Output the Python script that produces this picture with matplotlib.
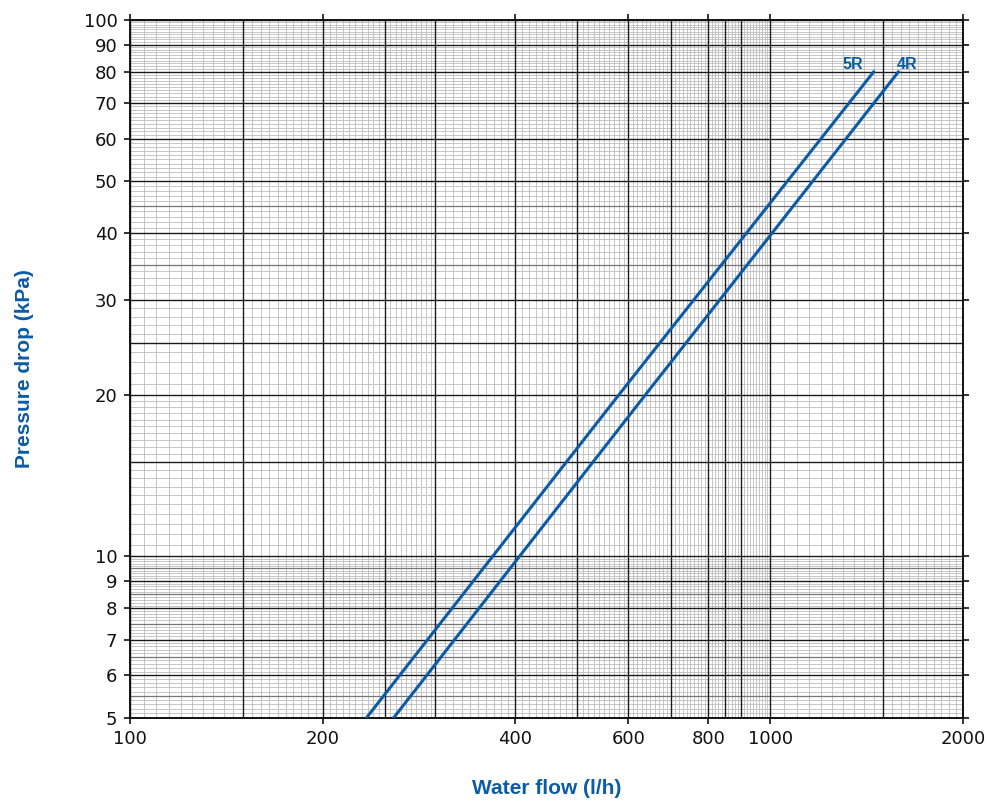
import numpy as np
import matplotlib.pyplot as plt
from matplotlib.ticker import FixedLocator, NullFormatter, NullLocator

# curves (water flow l/h, pressure drop kPa)
flow_5r = [234, 580, 1450]
dp_5r = [5, 20, 80]
flow_4r = [258, 638, 1585]
dp_4r = [5, 20, 80]

x_ticks = [100, 200, 400, 600, 800, 1000, 2000]
y_ticks = [5, 6, 7, 8, 9, 10, 20, 30, 40, 50, 60, 70, 80, 90, 100]

# graph paper lines
x_major = [100, 150, 200, 250, 300, 400, 500, 600, 700, 800, 850, 900, 1000, 1500, 2000]
y_major = [5, 6, 7, 8, 9, 10, 15, 20, 25, 30, 40, 50, 60, 70, 80, 90, 100]
y_mid = [35, 45, 5.5, 6.5, 7.5, 8.5, 9.5]
x_minor = list(range(100, 300, 5)) + list(range(300, 1000, 10)) + list(range(1000, 2001, 50))
y_minor = list(np.arange(5, 10, 0.1)) + list(np.arange(10, 20, 0.5)) + list(range(20, 101, 1))

blue = '#0b5ba6'

fig = plt.figure(figsize=(9.89, 8.05), dpi=100)
ax = fig.add_axes([0.1314, 0.1081, 0.8423, 0.8671])
ax.set_xscale('log')
ax.set_yscale('log')
ax.set_xlim(100, 2000)
ax.set_ylim(5, 100)

for v in x_minor:
    ax.axvline(v, color='#bdbdbd', lw=0.6, zorder=1)
for v in y_minor:
    ax.axhline(v, color='#bdbdbd', lw=0.6, zorder=1)
for v in y_mid:
    ax.axhline(v, color='#777777', lw=0.9, zorder=2)
for v in x_major:
    ax.axvline(v, color='#1a1a1a', lw=1.0, zorder=2)
for v in y_major:
    ax.axhline(v, color='#1a1a1a', lw=1.0, zorder=2)

ax.plot(flow_5r, dp_5r, color=blue, lw=2.2, zorder=3)
ax.plot(flow_4r, dp_4r, color=blue, lw=2.2, zorder=3)
ax.annotate('5R', (flow_5r[-1], dp_5r[-1]), xytext=(-15, 0), textcoords='offset points',
            color=blue, fontsize=11.5, fontweight='bold', family='Liberation Sans',
            ha='center', va='bottom', zorder=4)
ax.annotate('4R', (flow_4r[-1], dp_4r[-1]), xytext=(6, 0), textcoords='offset points',
            color=blue, fontsize=11.5, fontweight='bold', family='Liberation Sans',
            ha='center', va='bottom', zorder=4)

ax.xaxis.set_major_locator(FixedLocator(x_ticks))
ax.xaxis.set_minor_locator(NullLocator())
ax.xaxis.set_minor_formatter(NullFormatter())
ax.set_xticklabels([str(v) for v in x_ticks])
ax.yaxis.set_major_locator(FixedLocator(y_ticks))
ax.yaxis.set_minor_locator(NullLocator())
ax.yaxis.set_minor_formatter(NullFormatter())
ax.set_yticklabels([str(v) for v in y_ticks])
ax.tick_params(axis='both', direction='out', length=4, width=1.2, labelsize=13,
               colors='#111111', top=True, right=True, pad=5)

for s in ax.spines.values():
    s.set_linewidth(1.4)
    s.set_color('#111111')

ax.set_xlabel('Water flow (l/h)', color=blue, fontsize=15, fontweight='bold',
              family='Liberation Sans', labelpad=22)
ax.set_ylabel('Pressure drop (kPa)', color=blue, fontsize=15, fontweight='bold',
              family='Liberation Sans', labelpad=36)

plt.savefig('out.png', dpi=100)
